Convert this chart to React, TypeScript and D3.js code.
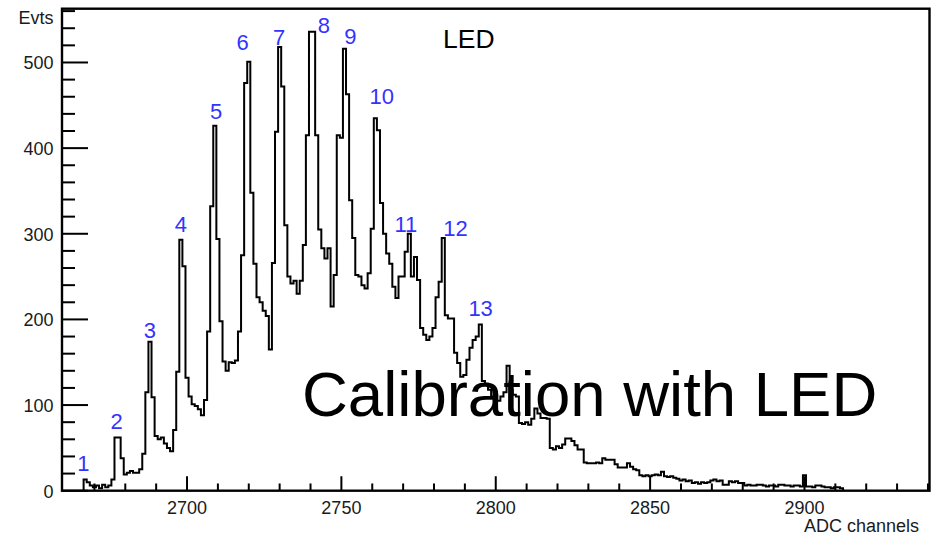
import React from "react";
import * as d3 from "d3";

// ---- data ----
const firstChannel = 2667; // bin centre of first non-empty bin (bins are 1 channel wide)
const countsA = [13, 10, 6, 4, 6, 3, 7, 4, 6, 13, 62, 62, 38, 19, 21, 23, 21, 21, 25, 43, 115, 174, 109, 64, 60, 62, 55, 50, 46, 71, 139, 293, 262, 132];
const countsB = [110, 101, 99, 95, 88, 106, 186, 332, 426, 294, 198, 151, 140, 150, 149, 152, 186, 275, 476, 501, 348, 265, 226, 220, 210, 204, 165, 266, 419, 518, 472, 310, 250, 242, 245, 230, 245, 287, 415, 536, 536, 415, 305, 283, 271, 283, 215, 252, 415, 412];
const countsC = [516, 463, 339, 295, 252, 250, 240, 236, 254, 306, 435, 421, 336, 300, 277, 265, 238, 225, 250, 250, 279, 300, 250, 273, 246, 190, 182, 176, 180, 190, 226, 244, 295, 205, 201, 201, 161, 149, 133, 135, 153, 167, 176, 180, 194, 128, 125, 118, 110, 112];
const countsD = [105, 110, 115, 146, 118, 112, 110, 79, 78, 80, 77, 84, 96, 90, 85, 85, 84, 50, 48, 52, 50, 54, 61, 61, 58, 53, 48, 48, 33, 32, 32, 32, 33, 32, 38, 36, 36, 36, 31, 27, 27, 27, 32, 28, 25, 24, 18, 17, 18, 17];
const countsE = [18, 19, 18, 22, 17, 16, 17, 15, 14, 12, 13, 11, 12, 9, 10, 8, 10, 9, 10, 12, 13, 11, 12, 7, 7, 11, 10, 11, 9, 9, 6, 7, 6, 6, 7, 7, 6, 5, 6, 6, 5, 7, 7, 6, 6, 5, 6, 6, 5, 18, 5, 5, 4, 6, 6, 5, 4, 4, 3, 4, 4, 3];

const xDomain = [2659.5, 2940.5];
const yMax = 562.8;
const xMajorTicks = [2700, 2750, 2800, 2850, 2900];
const yMajorTicks = [0, 100, 200, 300, 400, 500];

// peak numbers: label text, channel and count where the label sits
const peakLabels = [
  { t: "1", ch: 2666.4, v: 23 },
  { t: "2", ch: 2677.2, v: 72 },
  { t: "3", ch: 2688.0, v: 178 },
  { t: "4", ch: 2698.0, v: 302 },
  { t: "5", ch: 2709.4, v: 434 },
  { t: "6", ch: 2718.0, v: 514 },
  { t: "7", ch: 2729.8, v: 520 },
  { t: "8", ch: 2744.3, v: 534 },
  { t: "9", ch: 2752.9, v: 521 },
  { t: "10", ch: 2763.1, v: 452 },
  { t: "11", ch: 2770.9, v: 302 },
  { t: "12", ch: 2787.0, v: 297 },
  { t: "13", ch: 2795.1, v: 204 },
];

const FONT = "'Liberation Sans', Arial, Helvetica, sans-serif";

export default function App() {
  React.useEffect(() => {
    document.body.style.margin = "0";
  }, []);

  const W = 939, H = 535;
  const left = 62, right = 929.5, top = 8.7, bottom = 490.7;
  const x = d3.scaleLinear().domain(xDomain).range([left, right]);
  const y = d3.scaleLinear().domain([0, yMax]).range([bottom, top]);

  const counts = [...countsA, ...countsB, ...countsC, ...countsD, ...countsE];
  const pts: [number, number][] = [];
  pts.push([firstChannel - 0.5, 0]);
  counts.forEach((c, i) => pts.push([firstChannel + i - 0.5, c]));
  pts.push([firstChannel + counts.length - 0.5, 0]);
  const line = d3
    .line<[number, number]>()
    .x((d) => x(d[0]))
    .y((d) => y(d[1]))
    .curve(d3.curveStepAfter);
  const path = line(pts) || "";

  const xMinor = d3.range(2670, 2941, 10).filter((v) => !xMajorTicks.includes(v));
  const yMinor = d3.range(20, 561, 20).filter((v) => !yMajorTicks.includes(v));

  const plotW = right - left, plotH = bottom - top;
  const yMajLen = 0.03 * plotW, yMinLen = 0.015 * plotW;
  const xMajLen = 0.03 * plotH, xMinLen = 0.015 * plotH;

  return (
    <svg width={W} height={H} style={{ position: "absolute", left: 0, top: 0, background: "#fff" }} fontFamily={FONT}>
      <rect x={0} y={0} width={W} height={H} fill="#fff" />
      {/* histogram */}
      <path d={path} fill="none" stroke="#000" strokeWidth={2} strokeLinejoin="miter" />
      {/* frame */}
      <rect x={left} y={top} width={plotW} height={plotH} fill="none" stroke="#000" strokeWidth={2.4} />
      {/* y ticks */}
      {yMajorTicks.map((v) => (
        <line key={"ym" + v} x1={left} x2={left + yMajLen} y1={y(v)} y2={y(v)} stroke="#000" strokeWidth={2} />
      ))}
      {yMinor.map((v) => (
        <line key={"yn" + v} x1={left} x2={left + yMinLen} y1={y(v)} y2={y(v)} stroke="#000" strokeWidth={2} />
      ))}
      {yMajorTicks.map((v) => (
        <text key={"yl" + v} x={53.5} y={y(v) + 7} textAnchor="end" fontSize={18} fill="#1a1a1a">
          {v}
        </text>
      ))}
      {/* x ticks */}
      {xMajorTicks.map((v) => (
        <line key={"xm" + v} x1={x(v)} x2={x(v)} y1={bottom} y2={bottom - xMajLen} stroke="#000" strokeWidth={2} />
      ))}
      {xMinor.map((v) => (
        <line key={"xn" + v} x1={x(v)} x2={x(v)} y1={bottom} y2={bottom - xMinLen} stroke="#000" strokeWidth={2} />
      ))}
      {xMajorTicks.map((v) => (
        <text key={"xl" + v} x={x(v)} y={514} textAnchor="middle" fontSize={18} fill="#1a1a1a">
          {v}
        </text>
      ))}
      {/* axis titles */}
      <text x={53.5} y={24.3} textAnchor="end" fontSize={18} fill="#1a1a1a">Evts</text>
      <text x={919} y={531.5} textAnchor="end" fontSize={18} fill="#1a1a1a">ADC channels</text>
      {/* peak labels */}
      {peakLabels.map((p) => (
        <text key={"p" + p.t} x={x(p.ch)} y={y(p.v)} textAnchor="middle" fontSize={22} fill="#3333ff">
          {p.t}
        </text>
      ))}
      <text x={443} y={48.3} fontSize={26.5} fill="#000">LED</text>
      <text x={302} y={415.5} fontSize={63.5} fill="#000">Calibration with LED</text>
    </svg>
  );
}
